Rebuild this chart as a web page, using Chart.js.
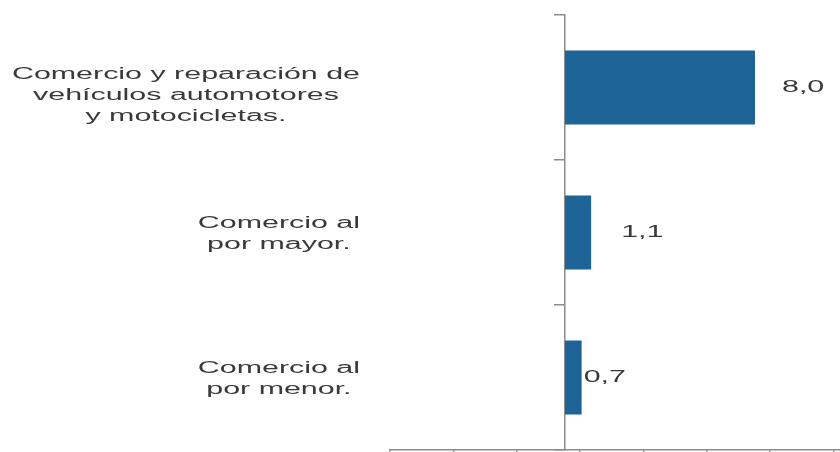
<!DOCTYPE html>
<html lang="es">
<head>
<meta charset="utf-8">
<title>Comercio</title>
<script src="https://cdn.jsdelivr.net/npm/chart.js@4.4.1/dist/chart.umd.min.js"></script>
<style>
  html, body { margin: 0; padding: 0; background: #fff; }
  #chart { display: block; }
</style>
</head>
<body>
<canvas id="chart" width="840" height="452"></canvas>
<script>
// Rótulos de categoría (una entrada por línea)
const categories = [
    ['Comercio y reparación de', 'vehículos automotores', 'y motocicletas.'],
    ['Comercio al', 'por mayor.'],
    ['Comercio al', 'por menor.']
];
const values = [8.0, 1.1, 0.7];

// Eje horizontal: rango y marcas (sin etiquetas)
const xMin = -7.37;
const xMax = 11.58;
const xTickValues = [-7.37, -4.7, -2.03, 0.63, 3.3, 5.97, 8.63, 11.3];

// estilo del texto
const FONT = '16px "Liberation Sans", Arial, sans-serif';
const TEXT_COLOR = '#3a3a3a';
const STRETCH = 1.9;          // ancho de letra
const LABEL_RIGHT = 360;      // borde derecho del bloque de rótulos
const LINE_H = 21;
const labelShift = [8, 2, 2]; // desplazamiento vertical de cada bloque
const valueGap = [27, 30, 2]; // separación de cada cifra respecto a su barra

function fmt(v){
    return v.toFixed(1).replace('.', ',');
}

function wideText(ctx, text, x, y){
    ctx.save();
    ctx.translate(x, y);
    ctx.scale(STRETCH, 1);
    ctx.fillText(text, 0, 0);
    ctx.restore();
}

const labelsPlugin = {
    id: 'labelsPlugin',
    afterDatasetsDraw(chart){
        const ctx = chart.ctx;
        const yScale = chart.scales.y;
        const bars = chart.getDatasetMeta(0).data;
        ctx.save();
        ctx.font = FONT;
        ctx.fillStyle = TEXT_COLOR;
        ctx.textBaseline = 'middle';

        // rótulos de categoría: bloque alineado a la derecha, líneas centradas
        categories.forEach((lines, i) => {
            const cy = yScale.getPixelForValue(i) + labelShift[i];
            const blockW = Math.max(...lines.map(l => ctx.measureText(l).width)) * STRETCH;
            const cx = LABEL_RIGHT - blockW / 2;
            const top = cy - (lines.length - 1) * LINE_H / 2;
            ctx.textAlign = 'center';
            lines.forEach((l, k) => wideText(ctx, l, cx, top + k * LINE_H));
        });

        // cifras junto a cada barra
        ctx.textAlign = 'left';
        bars.forEach((bar, i) => {
            wideText(ctx, fmt(values[i]), bar.x + valueGap[i], bar.y);
        });
        ctx.restore();
    }
};

new Chart(document.getElementById('chart'), {
    type: 'bar',
    data: {
        labels: categories.map(c => c.join(' ')),
        datasets: [{
            data: values,
            backgroundColor: '#1f6497',
            borderWidth: 0,
            barPercentage: 0.51,
            categoryPercentage: 1.0
        }]
    },
    options: {
        indexAxis: 'y',
        responsive: false,
        animation: false,
        devicePixelRatio: 1,
        layout: { padding: { left: 390, top: 15, right: 0, bottom: 0 } },
        plugins: {
            legend: { display: false },
            tooltip: { enabled: false }
        },
        scales: {
            x: {
                type: 'linear',
                min: xMin,
                max: xMax,
                afterBuildTicks: scale => {
                    scale.ticks = xTickValues.map(v => ({ value: v }));
                },
                ticks: { display: false },
                grid: { drawOnChartArea: false, drawTicks: true, tickLength: 2, color: '#8c8c8c', lineWidth: 1.5 },
                border: { color: '#8c8c8c', width: 1.5 }
            },
            y: {
                position: { x: 0 },
                ticks: { display: false },
                grid: { drawOnChartArea: false, drawTicks: true, tickLength: 10, offset: true, color: '#8c8c8c', lineWidth: 1.5 },
                border: { color: '#8c8c8c', width: 1.5 }
            }
        }
    },
    plugins: [labelsPlugin]
});
</script>
</body>
</html>
